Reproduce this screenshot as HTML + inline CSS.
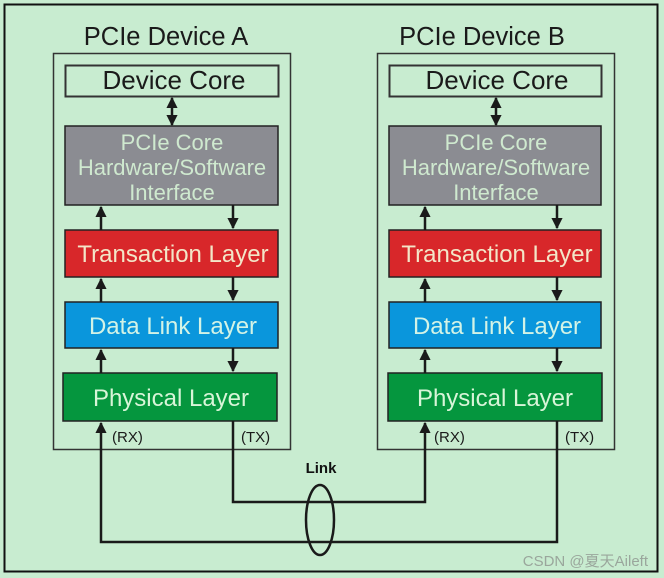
<!DOCTYPE html>
<html><head><style>
html,body{margin:0;padding:0;background:#c8ecd0;}
svg{display:block;font-family:"Liberation Sans",Arial,sans-serif;}
</style></head><body>
<svg width="664" height="578" viewBox="0 0 664 578" xmlns="http://www.w3.org/2000/svg">
<defs>
<marker id="ah" viewBox="0 0 10 10" refX="9" refY="5" markerWidth="4.5" markerHeight="4.5" orient="auto-start-reverse" markerUnits="strokeWidth">
<path d="M0,0 L10,5 L0,10 z" fill="#1a1a1a"/>
</marker>
</defs>
<rect x="0" y="0" width="664" height="578" fill="#c8ecd0"/>
<rect x="4.5" y="4.5" width="653" height="567" fill="none" stroke="#111" stroke-width="2"/>

<!-- Device A -->
<text x="166" y="45" font-size="25.5" text-anchor="middle" fill="#1a1a1a">PCIe Device A</text>
<rect x="53.5" y="53.5" width="237" height="396" fill="none" stroke="#333" stroke-width="1.5"/>
<rect x="65.5" y="65.5" width="213" height="31" fill="none" stroke="#333" stroke-width="2"/>
<text x="174" y="89" font-size="26" text-anchor="middle" fill="#1a1a1a">Device Core</text>
<line x1="172" y1="98" x2="172" y2="125" stroke="#1a1a1a" stroke-width="2.5" marker-start="url(#ah)" marker-end="url(#ah)"/>
<rect x="65" y="126" width="213" height="79" fill="#8b8c92" stroke="#222" stroke-width="1.5"/>
<text x="172" y="150" font-size="22" text-anchor="middle" fill="#cfe9cf">PCIe Core</text>
<text x="172" y="175" font-size="22" text-anchor="middle" fill="#cfe9cf">Hardware/Software</text>
<text x="172" y="200" font-size="22" text-anchor="middle" fill="#cfe9cf">Interface</text>
<rect x="65" y="230" width="213" height="47" fill="#d8272a" stroke="#222" stroke-width="1.5"/>
<text x="173" y="262" font-size="24" text-anchor="middle" fill="#f3e6c8">Transaction Layer</text>
<rect x="65" y="302" width="213" height="46" fill="#0a96dc" stroke="#222" stroke-width="1.5"/>
<text x="173" y="334" font-size="24" text-anchor="middle" fill="#d3f3e6">Data Link Layer</text>
<rect x="63" y="373" width="214" height="48" fill="#05963e" stroke="#222" stroke-width="1.5"/>
<text x="171" y="406" font-size="24" text-anchor="middle" fill="#d8f5d8">Physical Layer</text>
<g stroke="#1a1a1a" stroke-width="2.5">
<line x1="101" y1="230" x2="101" y2="207" marker-end="url(#ah)"/>
<line x1="233" y1="205" x2="233" y2="228" marker-end="url(#ah)"/>
<line x1="101" y1="302" x2="101" y2="279" marker-end="url(#ah)"/>
<line x1="233" y1="277" x2="233" y2="300" marker-end="url(#ah)"/>
<line x1="101" y1="373" x2="101" y2="350" marker-end="url(#ah)"/>
<line x1="233" y1="348" x2="233" y2="371" marker-end="url(#ah)"/>
</g>
<text x="112" y="442" font-size="15" fill="#1a1a1a">(RX)</text>
<text x="241" y="442" font-size="15" fill="#1a1a1a">(TX)</text>

<!-- Device B -->
<text x="482" y="45" font-size="25.5" text-anchor="middle" fill="#1a1a1a">PCIe Device B</text>
<rect x="377.5" y="53.5" width="237" height="396" fill="none" stroke="#333" stroke-width="1.5"/>
<rect x="389.5" y="65.5" width="212" height="31" fill="none" stroke="#333" stroke-width="2"/>
<text x="497" y="89" font-size="26" text-anchor="middle" fill="#1a1a1a">Device Core</text>
<line x1="496" y1="98" x2="496" y2="125" stroke="#1a1a1a" stroke-width="2.5" marker-start="url(#ah)" marker-end="url(#ah)"/>
<rect x="389" y="126" width="212" height="79" fill="#8b8c92" stroke="#222" stroke-width="1.5"/>
<text x="496" y="150" font-size="22" text-anchor="middle" fill="#cfe9cf">PCIe Core</text>
<text x="496" y="175" font-size="22" text-anchor="middle" fill="#cfe9cf">Hardware/Software</text>
<text x="496" y="200" font-size="22" text-anchor="middle" fill="#cfe9cf">Interface</text>
<rect x="389" y="230" width="212" height="47" fill="#d8272a" stroke="#222" stroke-width="1.5"/>
<text x="497" y="262" font-size="24" text-anchor="middle" fill="#f3e6c8">Transaction Layer</text>
<rect x="389" y="302" width="212" height="46" fill="#0a96dc" stroke="#222" stroke-width="1.5"/>
<text x="497" y="334" font-size="24" text-anchor="middle" fill="#d3f3e6">Data Link Layer</text>
<rect x="388" y="373" width="214" height="48" fill="#05963e" stroke="#222" stroke-width="1.5"/>
<text x="495" y="406" font-size="24" text-anchor="middle" fill="#d8f5d8">Physical Layer</text>
<g stroke="#1a1a1a" stroke-width="2.5">
<line x1="425" y1="230" x2="425" y2="207" marker-end="url(#ah)"/>
<line x1="557" y1="205" x2="557" y2="228" marker-end="url(#ah)"/>
<line x1="425" y1="302" x2="425" y2="279" marker-end="url(#ah)"/>
<line x1="557" y1="277" x2="557" y2="300" marker-end="url(#ah)"/>
<line x1="425" y1="373" x2="425" y2="350" marker-end="url(#ah)"/>
<line x1="557" y1="348" x2="557" y2="371" marker-end="url(#ah)"/>
</g>
<text x="434" y="442" font-size="15" fill="#1a1a1a">(RX)</text>
<text x="565" y="442" font-size="15" fill="#1a1a1a">(TX)</text>

<!-- Link wires -->
<g fill="none" stroke="#1a1a1a" stroke-width="2.5">
<polyline points="233,421 233,502 425,502 425,423" marker-end="url(#ah)"/>
<polyline points="557,421 557,542 101,542 101,423" marker-end="url(#ah)"/>
<ellipse cx="320" cy="520" rx="14" ry="35"/>
</g>
<text x="321" y="473" font-size="15" font-weight="bold" text-anchor="middle" fill="#111">Link</text>
<text x="648" y="566" font-size="15" text-anchor="end" fill="#9aa69c">CSDN @夏天Aileft</text>
</svg>
</body></html>
